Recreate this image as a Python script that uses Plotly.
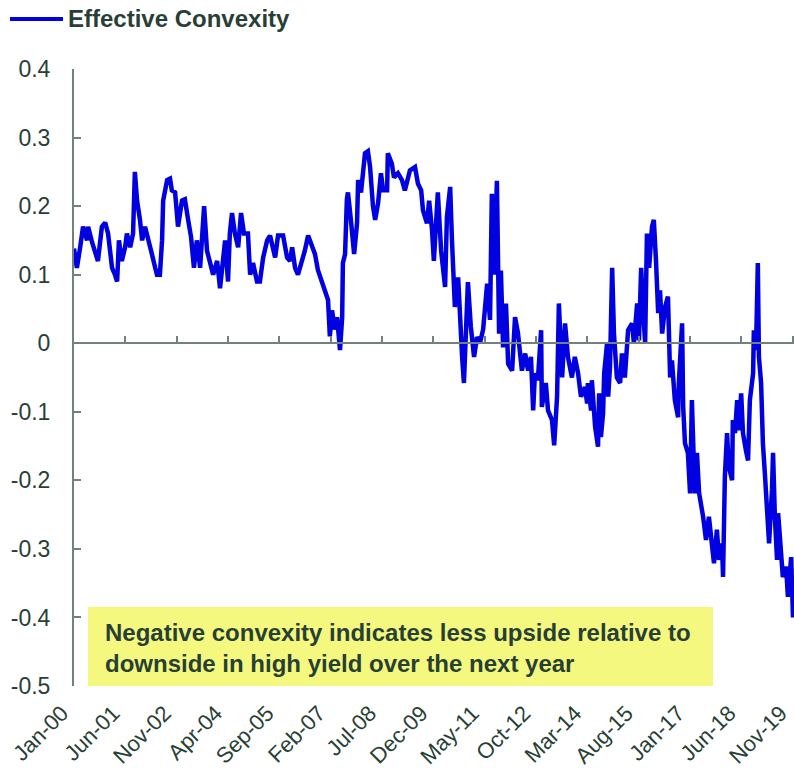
import pandas as pd
import plotly.graph_objects as go

# ---- data (decimal year, effective convexity) ----
t_dec = [
    2000.00, 2000.08, 2000.17, 2000.25, 2000.36, 2000.39, 2000.50, 2000.58, 2000.66, 2000.77,
    2000.86, 2000.94, 2001.05, 2001.13, 2001.19, 2001.24, 2001.32, 2001.41, 2001.46, 2001.55,
    2001.63, 2001.68, 2001.74, 2001.82, 2001.88, 2001.96, 2002.04, 2002.15, 2002.24, 2002.29,
    2002.37, 2002.43, 2002.46, 2002.57, 2002.65, 2002.70, 2002.79, 2002.87, 2002.98, 2003.06,
    2003.15, 2003.23, 2003.31, 2003.39, 2003.48, 2003.59, 2003.67, 2003.75, 2003.84, 2003.95,
    2004.03, 2004.11, 2004.17, 2004.25, 2004.30, 2004.36, 2004.44, 2004.53, 2004.61, 2004.69,
    2004.80, 2004.86, 2004.94, 2005.05, 2005.13, 2005.22, 2005.33, 2005.41, 2005.49, 2005.55,
    2005.63, 2005.77, 2005.88, 2005.96, 2006.02, 2006.10, 2006.18, 2006.29, 2006.37, 2006.46,
    2006.57, 2006.65, 2006.73, 2006.84, 2006.93, 2007.01, 2007.06, 2007.12, 2007.20, 2007.26,
    2007.34, 2007.40, 2007.42, 2007.48, 2007.53, 2007.56, 2007.64, 2007.73, 2007.81, 2007.84,
    2007.92, 2007.97, 2008.03, 2008.11, 2008.17, 2008.25, 2008.31, 2008.39, 2008.47, 2008.53,
    2008.64, 2008.66, 2008.77, 2008.83, 2008.94, 2009.05, 2009.13, 2009.27, 2009.41, 2009.49,
    2009.58, 2009.63, 2009.74, 2009.80, 2009.88, 2009.93, 2010.04, 2010.13, 2010.24, 2010.29,
    2010.38, 2010.43, 2010.51, 2010.60, 2010.65, 2010.71, 2010.76, 2010.84, 2010.87, 2010.95,
    2011.04, 2011.12, 2011.20, 2011.29, 2011.40, 2011.48, 2011.53, 2011.59, 2011.67, 2011.73,
    2011.78, 2011.84, 2011.92, 2011.98, 2012.09, 2012.17, 2012.25, 2012.36, 2012.45, 2012.53,
    2012.61, 2012.67, 2012.72, 2012.80, 2012.89, 2012.91, 2013.02, 2013.08, 2013.19, 2013.25,
    2013.33, 2013.38, 2013.47, 2013.55, 2013.63, 2013.74, 2013.82, 2013.91, 2013.99, 2014.10,
    2014.16, 2014.18, 2014.27, 2014.29, 2014.38, 2014.46, 2014.49, 2014.54, 2014.60, 2014.63,
    2014.71, 2014.74, 2014.79, 2014.85, 2014.90, 2014.98, 2015.07, 2015.12, 2015.20, 2015.29,
    2015.40, 2015.45, 2015.54, 2015.59, 2015.65, 2015.70, 2015.76, 2015.81, 2015.87, 2015.95,
    2016.00, 2016.06, 2016.12, 2016.17, 2016.23, 2016.31, 2016.39, 2016.45, 2016.50, 2016.58,
    2016.67, 2016.69, 2016.78, 2016.81, 2016.86, 2016.94, 2017.00, 2017.05, 2017.13, 2017.19,
    2017.25, 2017.36, 2017.44, 2017.52, 2017.60, 2017.66, 2017.74, 2017.80, 2017.88, 2017.91,
    2017.96, 2018.02, 2018.07, 2018.16, 2018.18, 2018.24, 2018.30, 2018.35, 2018.41, 2018.46,
    2018.54, 2018.60, 2018.65, 2018.74, 2018.76, 2018.82, 2018.87, 2018.90, 2018.96, 2019.01,
    2019.07, 2019.12, 2019.18, 2019.26, 2019.29, 2019.34, 2019.40, 2019.43, 2019.51, 2019.56,
    2019.65, 2019.70, 2019.79, 2019.84,
]
convexity = [
    0.138, 0.11, 0.14, 0.17, 0.15, 0.17, 0.147, 0.135, 0.12, 0.17,
    0.176, 0.16, 0.11, 0.10, 0.09, 0.15, 0.12, 0.14, 0.16, 0.14,
    0.16, 0.25, 0.208, 0.18, 0.15, 0.17, 0.15, 0.13, 0.11, 0.10,
    0.10, 0.15, 0.208, 0.238, 0.24, 0.223, 0.22, 0.17, 0.208, 0.21,
    0.18, 0.155, 0.11, 0.15, 0.11, 0.20, 0.135, 0.12, 0.10, 0.12,
    0.08, 0.12, 0.15, 0.09, 0.16, 0.19, 0.16, 0.14, 0.19, 0.16,
    0.16, 0.10, 0.117, 0.09, 0.09, 0.125, 0.15, 0.157, 0.14, 0.125,
    0.157, 0.157, 0.125, 0.12, 0.14, 0.11, 0.10, 0.12, 0.135, 0.157,
    0.143, 0.13, 0.107, 0.09, 0.075, 0.063, 0.01, 0.048, 0.02, 0.038,
    -0.01, 0.038, 0.117, 0.13, 0.21, 0.22, 0.18, 0.13, 0.175, 0.238,
    0.22, 0.252, 0.277, 0.28, 0.257, 0.20, 0.18, 0.204, 0.248, 0.223,
    0.223, 0.277, 0.262, 0.242, 0.248, 0.238, 0.223, 0.252, 0.257, 0.233,
    0.223, 0.194, 0.175, 0.208, 0.165, 0.12, 0.22, 0.135, 0.082, 0.184,
    0.228, 0.15, 0.053, 0.096, 0.033, -0.02, -0.058, 0.077, 0.089, 0.024,
    -0.02, 0.009, 0.0, 0.02, 0.087, 0.034, 0.218, 0.10, 0.237, 0.014,
    0.106, -0.006, 0.058, -0.03, -0.04, 0.038, 0.015, -0.04, -0.015, -0.04,
    -0.02, -0.098, -0.044, -0.054, 0.019, -0.093, -0.058, -0.098, -0.112, -0.149,
    -0.078, 0.058, -0.05, 0.029, -0.02, -0.05, -0.02, -0.044, -0.078, -0.064,
    -0.088, -0.058, -0.098, -0.054, -0.122, -0.151, -0.073, -0.137, -0.102, -0.044,
    0.0, -0.078, -0.035, 0.11, 0.014, -0.05, -0.058, -0.015, -0.05, 0.019,
    0.029, 0.0, 0.058, 0.004, 0.11, 0.053, 0.0, 0.16, 0.11, 0.17,
    0.18, 0.12, 0.044, 0.077, 0.014, 0.053, 0.068, -0.05, -0.025, -0.083,
    -0.108, -0.058, 0.029, -0.093, -0.146, -0.16, -0.219, -0.083, -0.219, -0.16,
    -0.219, -0.253, -0.287, -0.253, -0.287, -0.321, -0.272, -0.316, -0.292, -0.341,
    -0.195, -0.131, -0.18, -0.2, -0.112, -0.131, -0.083, -0.127, -0.073, -0.131,
    -0.156, -0.171, -0.083, -0.044, 0.019, -0.01, 0.117, -0.02, -0.058, -0.146,
    -0.195, -0.233, -0.292, -0.214, -0.16, -0.253, -0.316, -0.248, -0.302, -0.341,
    -0.326, -0.37, -0.312, -0.40,
]

tick_dates = ["2000-01-01", "2001-06-01", "2002-11-01", "2004-04-01", "2005-09-01",
              "2007-02-01", "2008-07-01", "2009-12-01", "2011-05-01", "2012-10-01",
              "2014-03-01", "2015-08-01", "2017-01-01", "2018-06-01", "2019-11-01"]
tick_labels = ["Jan-00", "Jun-01", "Nov-02", "Apr-04", "Sep-05", "Feb-07", "Jul-08",
               "Dec-09", "May-11", "Oct-12", "Mar-14", "Aug-15", "Jan-17", "Jun-18", "Nov-19"]
y_vals = [0.4, 0.3, 0.2, 0.1, 0.0, -0.1, -0.2, -0.3, -0.4, -0.5]
y_labels = ["0.4", "0.3", "0.2", "0.1", "0", "-0.1", "-0.2", "-0.3", "-0.4", "-0.5"]
series_name = "Effective Convexity"
note_text = "Negative convexity indicates less upside relative to<br>downside in high yield over the next year"

# ---- build ----
base = pd.Timestamp("2000-01-01")
dates = [base + pd.Timedelta(days=(d - 2000.0) * 365.25) for d in t_dec]

Y_MIN, Y_MAX = -0.5, 0.4
x_range = [base, base + pd.Timedelta(days=19.868 * 365.25)]

TEXT = "#283f35"
AXIS = "#71817c"
BLUE = "#0000e0"
FONT = "Liberation Sans, Arial, sans-serif"

fig = go.Figure()
fig.add_trace(go.Scatter(x=dates, y=convexity, mode="lines", name=series_name,
                         line=dict(color=BLUE, width=4.5), showlegend=False, cliponaxis=False))
# invisible trace to carry the zero-crossing axis with tick marks
fig.add_trace(go.Scatter(x=dates, y=convexity, mode="lines", xaxis="x2",
                         line=dict(width=0), opacity=0, showlegend=False, hoverinfo="skip"))

zero_pos = (0 - Y_MIN) / (Y_MAX - Y_MIN)

fig.update_layout(
    width=794, height=771,
    margin=dict(l=74, r=0, t=69, b=85),
    paper_bgcolor="white", plot_bgcolor="white",
    font=dict(family=FONT, color=TEXT, size=22),
    xaxis=dict(type="date", range=x_range, tickvals=tick_dates, ticktext=tick_labels,
               tickangle=-45, showgrid=False, zeroline=False, showline=False, ticks="",
               tickfont=dict(size=22, color=TEXT), ticklabelstandoff=9, ticklabelshift=-12,
               automargin=False, ticklabeloverflow="allow"),
    xaxis2=dict(type="date", range=x_range, overlaying="x", anchor="free", position=zero_pos,
                side="bottom", tickvals=tick_dates, showticklabels=False, showgrid=False,
                zeroline=False, showline=True, linecolor=AXIS, linewidth=2,
                ticks="inside", ticklen=6, tickwidth=2, tickcolor=AXIS, automargin=False),
    yaxis=dict(range=[Y_MIN, Y_MAX], tickvals=y_vals, ticktext=y_labels, showgrid=False,
               zeroline=False, showline=True, linecolor=AXIS, linewidth=2,
               ticks="inside", ticklen=7, tickwidth=2, tickcolor=AXIS,
               tickfont=dict(size=23, color=TEXT), ticklabelstandoff=17, automargin=False),
)

# annotation box
fig.add_shape(type="rect", xref="paper", yref="paper",
              x0=(88 - 74) / 720, x1=(713 - 74) / 720, y0=0, y1=(686 - 607) / 617,
              fillcolor="#f4f87e", line=dict(width=0), layer="above")
fig.add_annotation(xref="paper", yref="paper", x=(103 - 74) / 720, y=(686 - 648) / 617,
                   xanchor="left", yanchor="middle", align="left", showarrow=False,
                   text="<b>" + note_text.replace("<br>", "</b><br><b>") + "</b>",
                   font=dict(size=24, color=TEXT, family=FONT))

# legend (manual)
fig.add_shape(type="line", xref="paper", yref="paper",
              x0=(10 - 74) / 720, x1=(63 - 74) / 720, y0=(686 - 19) / 617, y1=(686 - 19) / 617,
              line=dict(color=BLUE, width=4))
fig.add_annotation(xref="paper", yref="paper", x=(66 - 74) / 720, y=(686 - 19) / 617,
                   xanchor="left", yanchor="middle", showarrow=False,
                   text="<b>" + series_name + "</b>", font=dict(size=24, color=TEXT, family=FONT))

fig.write_html(
    "out.html",
    config={"displayModeBar": False},
    post_script="document.documentElement.style.margin='0';document.body.style.margin='0';"
                "document.documentElement.style.overflow='hidden';document.body.style.overflow='hidden';",
)
